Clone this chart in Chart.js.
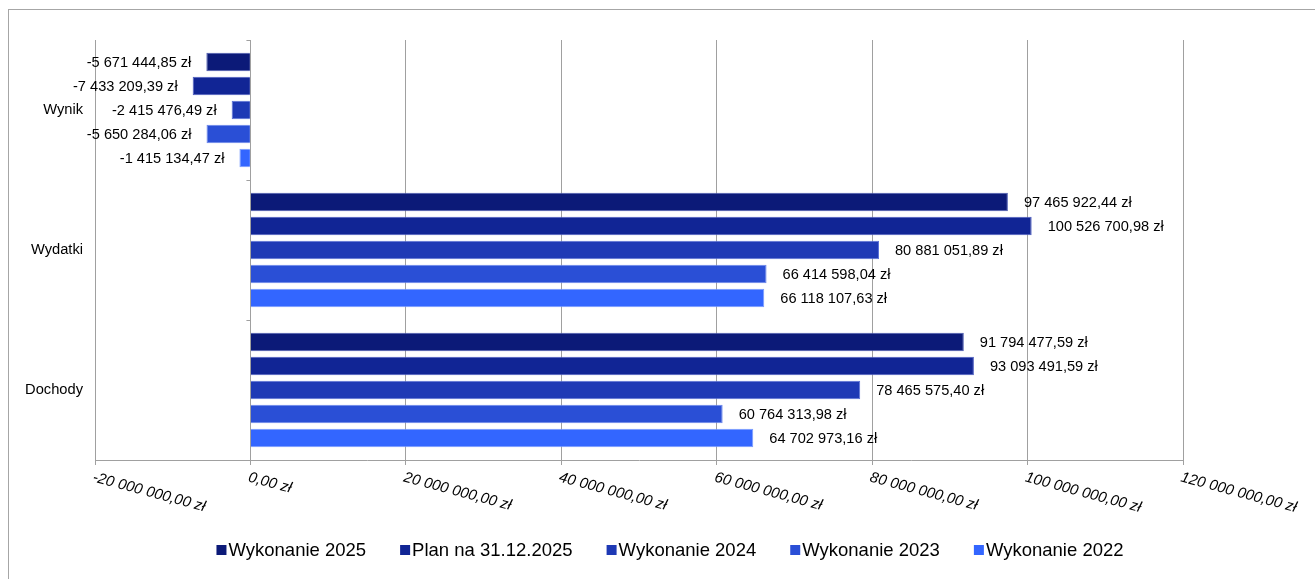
<!DOCTYPE html>
<html>
<head>
<meta charset="utf-8">
<script src="https://cdn.jsdelivr.net/npm/chart.js@4.4.1/dist/chart.umd.min.js"></script>
<style>
  html, body { margin: 0; padding: 0; background: #fff; }
  #wrap { position: relative; width: 1315px; height: 579px; overflow: hidden; }
  #frame { position: absolute; left: 8px; top: 9px; right: -2px; bottom: -2px;
           border-left: 1px solid #a6a6a6; border-top: 1px solid #a6a6a6; }
  canvas { position: absolute; left: 0; top: 0; }
</style>
</head>
<body>
<div id="wrap">
  <div id="frame"></div>
  <canvas id="chart" width="1315" height="579"></canvas>
</div>
<script>
// categories, top to bottom
const categories = ['Wynik', 'Wydatki', 'Dochody'];
const seriesNames = ['Wykonanie 2025', 'Plan na 31.12.2025', 'Wykonanie 2024', 'Wykonanie 2023', 'Wykonanie 2022'];

// values in zł, in category order
const wykonanie2025 = [-5671444.85, 97465922.44, 91794477.59];
const plan2025      = [-7433209.39, 100526700.98, 93093491.59];
const wykonanie2024 = [-2415476.49, 80881051.89, 78465575.40];
const wykonanie2023 = [-5650284.06, 66414598.04, 60764313.98];
const wykonanie2022 = [-1415134.47, 66118107.63, 64702973.16];

// value axis
const xMin = -20000000;
const xMax = 120000000;
const xStep = 20000000;

const colors = ['#0c1a78', '#112595', '#1e39b5', '#2a4fd6', '#3366ff'];
const edges  = ['#4a5ab0', '#4c5cc0', '#5a70d8', '#6a86ec', '#7a9cff'];
const seriesValues = [wykonanie2025, plan2025, wykonanie2024, wykonanie2023, wykonanie2022];

const FONT = '"Liberation Sans", Arial, sans-serif';

function zl(v) {
  const parts = Math.abs(v).toFixed(2).split('.');
  const whole = parts[0].replace(/\B(?=(\d{3})+(?!\d))/g, ' ');
  return (v < 0 ? '-' : '') + whole + ',' + parts[1] + ' zł';
}

// labels at the end of each bar
const valueLabels = {
  id: 'valueLabels',
  afterDatasetsDraw(chart) {
    const ctx = chart.ctx;
    ctx.save();
    ctx.font = '14.6px ' + FONT;
    ctx.fillStyle = '#000';
    ctx.textBaseline = 'middle';
    chart.data.datasets.forEach((ds, i) => {
      chart.getDatasetMeta(i).data.forEach((bar, j) => {
        const v = ds.data[j];
        if (v < 0) {
          ctx.textAlign = 'right';
          ctx.fillText(zl(v), bar.x - 15, bar.y + 1);
        } else {
          ctx.textAlign = 'left';
          ctx.fillText(zl(v), bar.x + 16, bar.y + 1);
        }
      });
    });
    ctx.restore();
  }
};

// slanted value-axis labels, small category ticks at zero, legend
const extras = {
  id: 'extras',
  afterDraw(chart) {
    const ctx = chart.ctx;
    const xs = chart.scales.x;
    const ys = chart.scales.y;
    ctx.save();

    // x tick labels, rotated down to the right
    ctx.font = 'italic 15px ' + FONT;
    ctx.fillStyle = '#000';
    ctx.textAlign = 'left';
    ctx.textBaseline = 'top';
    xs.ticks.forEach(t => {
      const px = xs.getPixelForValue(t.value);
      ctx.save();
      ctx.translate(px, chart.chartArea.bottom + 10);
      ctx.rotate(15 * Math.PI / 180);
      ctx.fillText(zl(t.value), 0, 0);
      ctx.restore();
    });

    // category separators on the zero line
    const zx = xs.getPixelForValue(0);
    ctx.strokeStyle = '#a0a0a0';
    ctx.lineWidth = 1;
    for (let i = 0; i <= categories.length; i++) {
      const py = Math.round(ys.getPixelForValue(i - 0.5)) + 0.5;
      ctx.beginPath();
      ctx.moveTo(zx - 4, py);
      ctx.lineTo(zx + 0.5, py);
      ctx.stroke();
    }

    // legend
    ctx.font = '18.5px ' + FONT;
    ctx.textAlign = 'left';
    ctx.textBaseline = 'middle';
    const box = 10, gap = 2, spacing = 34;
    const widths = chart.data.datasets.map(ds => ctx.measureText(ds.label).width);
    const total = widths.reduce((a, w) => a + box + gap + w, 0) + spacing * (widths.length - 1);
    let lx = 670 - total / 2;
    const ly = 550;
    chart.data.datasets.forEach((ds, i) => {
      ctx.fillStyle = ds.backgroundColor;
      ctx.fillRect(lx, ly - box / 2, box, box);
      ctx.fillStyle = '#000';
      ctx.fillText(ds.label, lx + box + gap, ly + 1);
      lx += box + gap + widths[i] + spacing;
    });

    ctx.restore();
  }
};

new Chart(document.getElementById('chart'), {
  type: 'bar',
  data: {
    labels: categories,
    datasets: seriesNames.map((name, i) => ({
      label: name,
      data: seriesValues[i],
      backgroundColor: colors[i],
      borderColor: edges[i],
      borderWidth: 1,
      barPercentage: 0.78,
      categoryPercentage: 0.857
    }))
  },
  options: {
    indexAxis: 'y',
    responsive: false,
    animation: false,
    layout: { padding: { top: 40, right: 132, left: 0, bottom: 0 } },
    plugins: {
      legend: { display: false },
      tooltip: { enabled: false }
    },
    scales: {
      x: {
        type: 'linear',
        min: xMin,
        max: xMax,
        ticks: { stepSize: xStep, display: false },
        grid: { color: '#a0a0a0', lineWidth: 1, drawTicks: true, tickLength: 5 },
        border: { display: true, color: '#a0a0a0' },
        afterFit(scale) { scale.height = 119; }
      },
      y: {
        ticks: { color: '#000', padding: 4, font: { family: FONT, size: 14.7 } },
        grid: { display: false },
        border: { display: false },
        afterFit(scale) { scale.width = 95; }
      }
    }
  },
  plugins: [valueLabels, extras]
});
</script>
</body>
</html>
